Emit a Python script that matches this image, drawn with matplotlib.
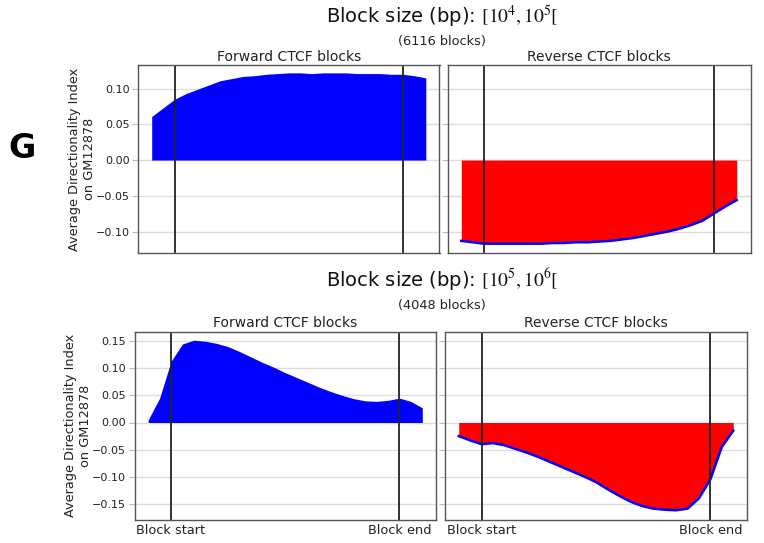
import matplotlib
matplotlib.use("Agg")
import matplotlib.pyplot as plt
import numpy as np

plt.rcParams['font.family'] = ['DejaVu Sans']
plt.rcParams['mathtext.fontset'] = 'stix'

positions = list(range(-10, 111, 5))

top_forward = [0.061, 0.073, 0.085, 0.093, 0.099, 0.105, 0.111, 0.114, 0.117, 0.118,
               0.120, 0.121, 0.122, 0.122, 0.121, 0.122, 0.122, 0.122, 0.121, 0.121,
               0.121, 0.120, 0.120, 0.118, 0.115]
top_reverse = [-0.113, -0.115, -0.117, -0.117, -0.117, -0.117, -0.117, -0.117, -0.116, -0.116,
               -0.115, -0.115, -0.114, -0.113, -0.111, -0.109, -0.106, -0.103, -0.100, -0.096,
               -0.091, -0.085, -0.075, -0.065, -0.056]
bottom_forward = [0.005, 0.045, 0.113, 0.145, 0.152, 0.150, 0.146, 0.140, 0.131, 0.121,
                  0.111, 0.102, 0.092, 0.083, 0.074, 0.065, 0.057, 0.050, 0.044, 0.040,
                  0.039, 0.041, 0.045, 0.039, 0.027]
bottom_reverse = [-0.025, -0.033, -0.040, -0.038, -0.042, -0.049, -0.056, -0.064, -0.073, -0.082,
                  -0.091, -0.100, -0.110, -0.123, -0.135, -0.146, -0.154, -0.159, -0.161, -0.162,
                  -0.159, -0.140, -0.105, -0.045, -0.015]

block_start, block_end = 0, 100
xtick_labels = ["Block start", "Block end"]
panel_titles = ["Forward CTCF blocks", "Reverse CTCF blocks"]
row_titles = [r"Block size (bp): $[10^4, 10^5[$", r"Block size (bp): $[10^5, 10^6[$"]
row_counts = ["(6116 blocks)", "(4048 blocks)"]
ylabel = "Average Directionality Index\non GM12878"

W, H = 764, 543
fig = plt.figure(figsize=(W / 100, H / 100), dpi=100)

def rect(x0, y0, x1, y1):
    return [x0 / W, 1 - y1 / H, (x1 - x0) / W, (y1 - y0) / H]

ax_tl = fig.add_axes(rect(138, 65, 439.5, 253))
ax_tr = fig.add_axes(rect(447.5, 65, 750.5, 253))
ax_bl = fig.add_axes(rect(134.5, 331.5, 436, 520))
ax_br = fig.add_axes(rect(445, 331.5, 747, 520))

rows = [
    (ax_tl, ax_tr, top_forward, top_reverse, (-0.130, 0.133), [-0.10, -0.05, 0.0, 0.05, 0.10], False, -0.187),
    (ax_bl, ax_br, bottom_forward, bottom_reverse, (-0.180, 0.168), [-0.15, -0.10, -0.05, 0.0, 0.05, 0.10, 0.15], True, -0.189),
]

for axf, axr, fw, rv, ylim, yticks, labels, lx in rows:
    for ax, vals, kind in [(axf, fw, 'f'), (axr, rv, 'r')]:
        if kind == 'f':
            ax.fill_between(positions, 0, vals, color='#0000ff', lw=0)
        else:
            ax.fill_between(positions, 0, vals, color='#ff0000', lw=0)
            ax.plot(positions, vals, color='#0000ff', lw=1.8)
        ax.axvline(block_start, color='#222222', lw=1.3)
        ax.axvline(block_end, color='#222222', lw=1.3)
        ax.set_ylim(*ylim)
        ax.set_yticks(yticks)
        ax.grid(axis='y', color='#dddddd', lw=1.0)
        ax.set_axisbelow(True)
        ax.set_xlim(-16, 116)
        ax.set_xticks([block_start, block_end])
        if labels:
            ax.set_xticklabels(xtick_labels, fontsize=9.3, color='#222222')
        else:
            ax.set_xticklabels([])
        ax.tick_params(axis='x', length=0, pad=3)
        ax.tick_params(axis='y', length=4, color='#bbbbbb', labelsize=8, labelcolor='#222222', pad=2)
        for s in ax.spines.values():
            s.set_color('#555555')
            s.set_linewidth(1.0)
    axr.tick_params(axis='y', labelleft=False)
    axf.set_title(panel_titles[0], fontsize=10, pad=3, color='#222222')
    axr.set_title(panel_titles[1], fontsize=10, pad=3, color='#222222')
    axf.set_ylabel(ylabel, fontsize=9.3, color='#222222', va='center')
    axf.yaxis.set_label_coords(lx, 0.5)

xc = 442 / W
fig.text(xc, 1 - 17 / H, row_titles[0], ha='center', va='center', fontsize=14, color='#111111')
fig.text(xc, 1 - 41 / H, row_counts[0], ha='center', va='center', fontsize=9.3, color='#222222')
fig.text(xc, 1 - 280 / H, row_titles[1], ha='center', va='center', fontsize=14, color='#111111')
fig.text(xc, 1 - 306 / H, row_counts[1], ha='center', va='center', fontsize=9.3, color='#222222')
fig.text(22 / W, 1 - 148 / H, "G", ha='center', va='center', fontsize=24, fontweight='bold', color='black')

fig.savefig("out.png", dpi=100)
